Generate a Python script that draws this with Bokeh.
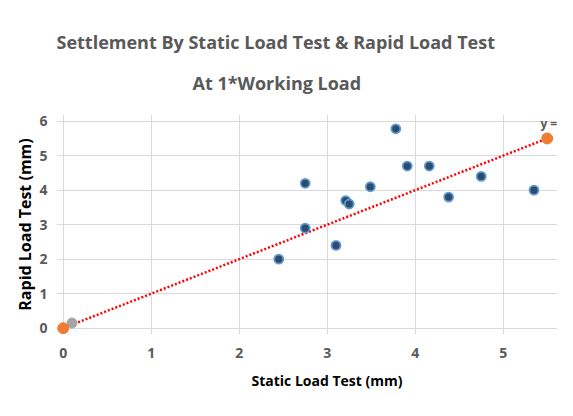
from bokeh.plotting import figure
from bokeh.models import Range1d, Title
from bokeh.embed import file_html
from bokeh.resources import INLINE
from bokeh.core.properties import value

# Data
static_mm = [2.45, 2.75, 2.75, 3.10, 3.21, 3.25, 3.49, 3.78, 3.91, 4.16, 4.38, 4.75, 5.35]
rapid_mm = [2.0, 4.2, 2.9, 2.4, 3.7, 3.6, 4.1, 5.78, 4.7, 4.7, 3.8, 4.4, 4.0]
grey_x = [0.1]
grey_y = [0.15]
line_x = [0.0, 5.5]
line_y = [0.0, 5.5]
eq_label = ["y ="]
x_ticks = [0, 1, 2, 3, 4, 5]
y_ticks = [0, 1, 2, 3, 4, 5, 6]
title_lines = ["Settlement By Static Load Test & Rapid Load Test", "At 1*Working Load"]
x_title = "Static Load Test (mm)"
y_title = "Rapid Load Test (mm)"

FONT = "Open Sans"
GREY = "#595959"
W, H = 557, 400
BL, BT, BB = 56, 114, 66

p = figure(width=W, height=H, output_backend="svg", toolbar_location=None,
           x_range=Range1d(-0.0761, 5.617), y_range=Range1d(-0.183, 6.194),
           min_border_left=BL, min_border_right=0, min_border_top=BT,
           min_border_bottom=BB)
p.outline_line_color = None
p.background_fill_color = "white"
p.border_fill_color = "white"

# title (two lines): lower line first, so that it sits next to the plot
t2 = Title(text=title_lines[1], align="left", offset=136, standoff=40,
           text_font=FONT, text_font_size="18px", text_font_style="bold",
           text_color=GREY)
t1 = Title(text=title_lines[0], align="left", offset=0, standoff=-11,
           text_font=FONT, text_font_size="18px", text_font_style="bold",
           text_color=GREY)
p.add_layout(t2, "above")
p.add_layout(t1, "above")

for ax in (p.xaxis[0], p.yaxis[0]):
    ax.axis_line_color = None
    ax.major_tick_line_color = None
    ax.minor_tick_line_color = None
    ax.major_tick_out = 0
    ax.major_tick_in = 0
    ax.minor_tick_out = 0
    ax.minor_tick_in = 0
    ax.major_label_text_font = FONT
    ax.major_label_text_font_size = "14px"
    ax.major_label_text_font_style = "bold"
    ax.major_label_text_color = GREY
    ax.axis_label_text_font = FONT
    ax.axis_label_text_font_style = "bold"
    ax.axis_label_text_color = "black"

p.xaxis.ticker = x_ticks
p.yaxis.ticker = y_ticks
p.yaxis.axis_label = y_title
p.yaxis.axis_label_text_font_size = "16px"
p.xaxis.major_label_standoff = 13
p.yaxis.major_label_standoff = 9
p.yaxis.axis_label_standoff = 0

# x-axis title, placed below the axis so it can be shifted like the reference
xt = Title(text=x_title, align="left", offset=195, standoff=16,
           text_font=FONT, text_font_size="14px", text_font_style="bold",
           text_color="black")
p.add_layout(xt, "below")

p.xgrid.ticker = x_ticks
p.ygrid.ticker = y_ticks
p.xgrid.grid_line_color = "#D9D9D9"
p.ygrid.grid_line_color = "#D9D9D9"

# trend line
p.line(line_x, line_y, line_color="#FF0000", line_width=2.5, line_dash="2 2")

# data points
p.scatter(static_mm, rapid_mm, size=9, fill_color="#2F4A6A",
          line_color="#5B9BD5", line_width=1.8)
p.scatter(grey_x, grey_y, size=10, fill_color="#A5A5A5", line_color="#A5A5A5")
p.scatter(line_x, line_y, size=11, fill_color="#ED7D31", line_color="#ED7D31")

p.text(x=line_x[1:], y=line_y[1:], text=eq_label, x_offset=10, y_offset=-6,
       text_align="right", text_baseline="bottom", text_font=value(FONT),
       text_font_size="12px", text_font_style="bold", text_color=GREY)

open("out.html", "w").write(file_html(p, INLINE))
